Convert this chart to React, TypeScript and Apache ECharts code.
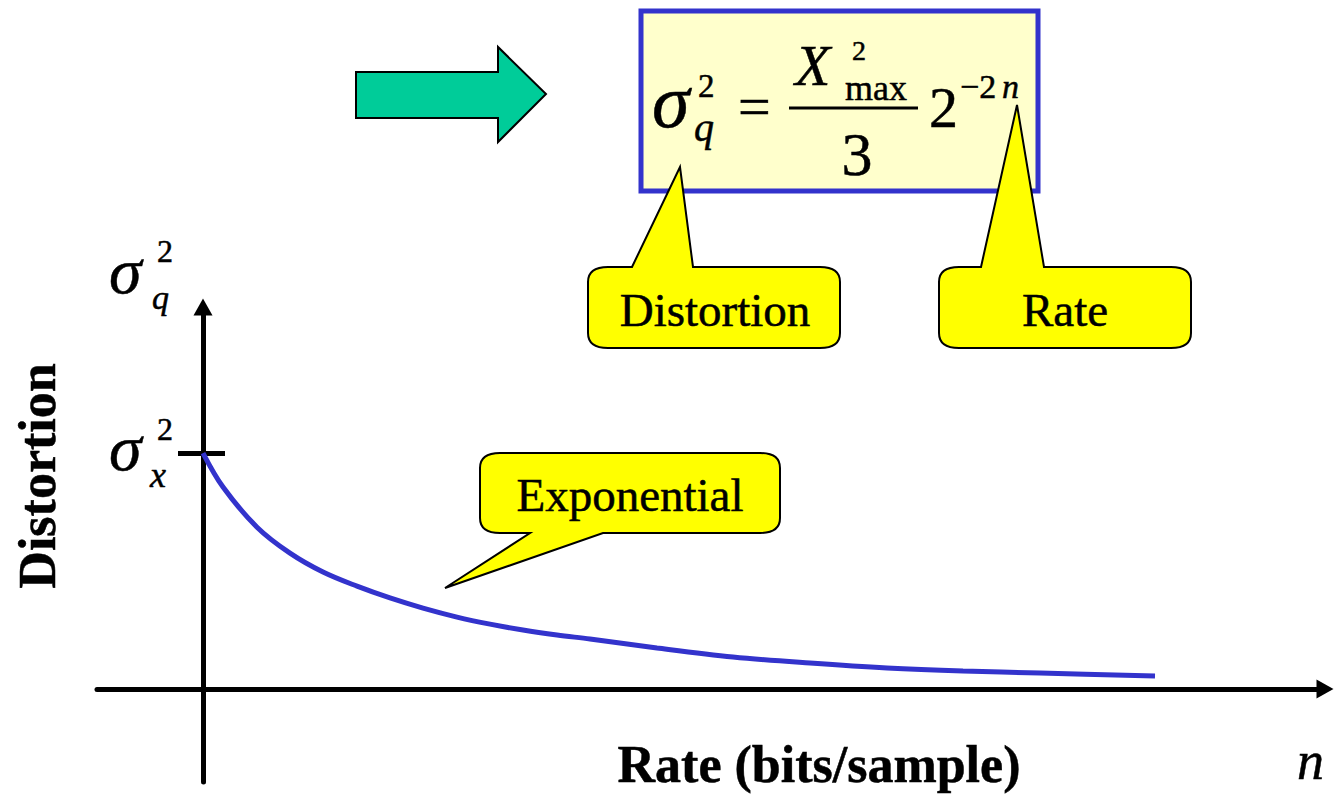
import React, { useEffect, useRef } from "react";
import * as echarts from "echarts";

// ---- data ----
const rateBits = [0, 0.2, 0.54, 0.87, 1.2, 1.54, 1.87, 2.2, 2.54, 2.87, 3.2, 3.54, 3.87, 4.54, 5.3, 6.07, 6.84, 7.6, 8.37, 9.52];
const distortion = [1.0, 0.856, 0.686, 0.576, 0.496, 0.436, 0.386, 0.343, 0.305, 0.275, 0.25, 0.229, 0.212, 0.174, 0.136, 0.11, 0.089, 0.076, 0.068, 0.055];
const sigmaXLevel = 1;
const sigmaTickSpan = [-0.25, 0.22];
const xRange = [-1.06, 11.22];
const yRange = [-0.394, 1.619];

const SERIF = "Liberation Serif";

function calloutPath(x0: number, y0: number, x1: number, y1: number, rx: number, ry: number,
  side: "top" | "bottom", a: number, b: number, tx: number, ty: number): string {
  const p: string[] = [];
  p.push(`M${x0 + rx},${y0}`);
  if (side === "top") { p.push(`L${a},${y0}`, `L${tx},${ty}`, `L${b},${y0}`); }
  p.push(`L${x1 - rx},${y0}`, `Q${x1},${y0} ${x1},${y0 + ry}`, `L${x1},${y1 - ry}`, `Q${x1},${y1} ${x1 - rx},${y1}`);
  if (side === "bottom") { p.push(`L${b},${y1}`, `L${tx},${ty}`, `L${a},${y1}`); }
  p.push(`L${x0 + rx},${y1}`, `Q${x0},${y1} ${x0},${y1 - ry}`, `L${x0},${y0 + ry}`, `Q${x0},${y0} ${x0 + rx},${y0}`, "Z");
  return p.join(" ");
}

echarts.graphic.registerShape("calloutDist", echarts.graphic.extendPath(calloutPath(588, 267, 840, 348, 20, 15, "top", 632, 693, 680, 167), {}));
echarts.graphic.registerShape("calloutRate", echarts.graphic.extendPath(calloutPath(939, 267, 1191, 348, 20, 15, "top", 981, 1044, 1017, 105), {}));
echarts.graphic.registerShape("calloutExp", echarts.graphic.extendPath(calloutPath(480, 453, 780, 533, 20, 15, "bottom", 530, 603, 445, 588), {}));

type TOpts = { italic?: boolean; bold?: boolean; align?: string };
function txt(text: string, x: number, base: number, size: number, o: TOpts = {}) {
  const align = o.align || "left";
  return {
    type: "text",
    z: 100,
    style: {
      text,
      x,
      y: base - 0.34 * size,
      fontFamily: SERIF,
      fontSize: size,
      fontStyle: o.italic ? "italic" : "normal",
      fontWeight: o.bold ? "bold" : "normal",
      fill: "#000",
      stroke: "#000",
      lineWidth: 0.5,
      align,
      textAlign: align,
      verticalAlign: "middle",
      textVerticalAlign: "middle",
    },
  };
}

export default function App() {
  const ref = useRef<HTMLDivElement>(null);
  useEffect(() => {
    if (!ref.current) return;
    const chart = echarts.init(ref.current, undefined, { renderer: "svg" });
    const axisCommon = {
      type: "value",
      axisTick: { show: false },
      axisLabel: { show: false },
      splitLine: { show: false },
      axisLine: {
        show: true,
        onZero: true,
        symbol: ["none", "triangle"],
        symbolSize: [19, 17],
        lineStyle: { color: "#000", width: 5 },
      },
    };
    const calloutStyle = { fill: "#FFFF00", stroke: "#000", lineWidth: 2 };
    const option: any = {
      animation: false,
      grid: { left: 97, right: 10, top: 307, bottom: 12, containLabel: false },
      xAxis: { ...axisCommon, min: xRange[0], max: xRange[1] },
      yAxis: { ...axisCommon, min: yRange[0], max: yRange[1] },
      series: [
        {
          type: "line",
          data: rateBits.map((x, i) => [x, distortion[i]]),
          showSymbol: false,
          smooth: 0.35,
          lineStyle: { color: "#3333CC", width: 5 },
          itemStyle: { color: "#3333CC" },
          z: 5,
          silent: true,
          markLine: {
            silent: true,
            symbol: ["none", "none"],
            label: { show: false },
            lineStyle: { color: "#000", width: 5, type: "solid" },
            data: [[{ coord: [sigmaTickSpan[0], sigmaXLevel] }, { coord: [sigmaTickSpan[1], sigmaXLevel] }]],
          },
        },
      ],
      graphic: [
        // green block arrow
        {
          type: "polygon", z: 50,
          shape: { points: [[356, 72], [498, 72], [498, 47], [546, 94], [498, 142], [498, 118], [356, 118]] },
          style: { fill: "#00CC99", stroke: "#000", lineWidth: 2 },
        },
        // formula box
        {
          type: "rect", z: 50,
          shape: { x: 641, y: 11, width: 397, height: 180 },
          style: { fill: "#FFFFCC", stroke: "#3333CC", lineWidth: 5 },
        },
        // formula
        txt("σ", 652, 127, 76, { italic: true }),
        txt("2", 698, 97, 33),
        txt("q", 694, 141, 40, { italic: true }),
        txt("=", 738, 126, 58),
        { type: "line", z: 100, shape: { x1: 789, y1: 108, x2: 918, y2: 108 }, style: { stroke: "#000", lineWidth: 3 } },
        txt("X", 795, 85, 58, { italic: true }),
        txt("2", 852, 60, 28),
        txt("max", 845, 100, 36),
        txt("3", 857, 175, 62, { align: "center" }),
        txt("2", 929, 127, 58),
        txt("−2", 960, 98, 34),
        txt("n", 1002, 98, 34, { italic: true }),
        // callouts
        { type: "calloutDist", z: 120, style: calloutStyle },
        { type: "calloutRate", z: 120, style: calloutStyle },
        { type: "calloutExp", z: 120, style: calloutStyle },
        { ...txt("Distortion", 715, 326, 47, { align: "center" }), z: 130 },
        { ...txt("Rate", 1065, 326, 47, { align: "center" }), z: 130 },
        { ...txt("Exponential", 630, 511, 47, { align: "center" }), z: 130 },
        // axis annotations
        txt("σ", 109, 293, 66, { italic: true }),
        txt("2", 157, 262, 32),
        txt("q", 152, 309, 34, { italic: true }),
        txt("σ", 109, 470, 66, { italic: true }),
        txt("2", 157, 440, 32),
        txt("x", 150, 487, 36, { italic: true }),
        {
          type: "text", z: 100,
          x: 37, y: 476, rotation: Math.PI / 2,
          style: {
            text: "Distortion", x: 0, y: 0,
            fontFamily: SERIF, fontSize: 52, fontWeight: "bold", fill: "#000", stroke: "#000", lineWidth: 0.5,
            align: "center", textAlign: "center", verticalAlign: "middle", textVerticalAlign: "middle",
          },
        },
        txt("Rate (bits/sample)", 819, 782, 52, { bold: true, align: "center" }),
        txt("n", 1297, 779, 54, { italic: true }),
      ],
    };
    chart.setOption(option);
    return () => chart.dispose();
  }, []);
  return <div ref={ref} style={{ position: "absolute", left: 0, top: 0, width: 1335, height: 794, background: "#fff" }} />;
}
